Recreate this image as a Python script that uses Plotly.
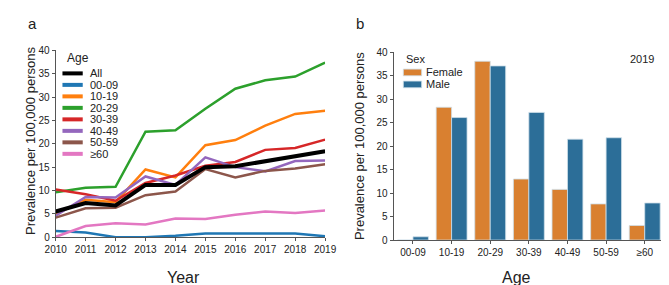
import plotly.graph_objects as go

W, H = 669, 285

# ---------------- data ----------------
years = [2010, 2011, 2012, 2013, 2014, 2015, 2016, 2017, 2018, 2019]
age_groups = ["All", "00-09", "10-19", "20-29", "30-39", "40-49", "50-59", "≥60"]
age_colors = ["#000000", "#1f77b4", "#ff7f0e", "#2ca02c", "#d62728", "#9467bd", "#8c564b", "#e377c2"]

v_all   = [5.5, 7.3, 6.8, 11.2, 11.2, 15.0, 15.2, 16.3, 17.4, 18.4]
v_0009  = [1.3, 1.0, 0.0, 0.0, 0.3, 0.8, 0.8, 0.8, 0.8, 0.2]
v_1019  = [5.0, 8.0, 7.5, 14.5, 12.8, 19.7, 20.8, 23.9, 26.4, 27.1]
v_2029  = [9.6, 10.6, 10.8, 22.6, 22.9, 27.5, 31.8, 33.6, 34.4, 37.4]
v_3039  = [10.2, 9.2, 7.8, 11.6, 13.2, 15.3, 16.1, 18.7, 19.1, 20.9]
v_4049  = [4.6, 8.6, 8.5, 13.0, 11.2, 17.1, 15.0, 14.1, 16.3, 16.4]
v_5059  = [4.2, 6.2, 6.3, 9.0, 9.8, 14.6, 12.8, 14.2, 14.7, 15.6]
v_60    = [0.1, 2.4, 3.0, 2.7, 4.0, 3.9, 4.8, 5.5, 5.2, 5.7]
series_a = [v_all, v_0009, v_1019, v_2029, v_3039, v_4049, v_5059, v_60]

bar_ages = ["00-09", "10-19", "20-29", "30-39", "40-49", "50-59", "≥60"]
female = [0.0, 28.3, 38.1, 13.0, 10.8, 7.7, 3.1]
male   = [0.7, 26.1, 37.1, 27.2, 21.5, 21.8, 7.9]
sex_names = ["Female", "Male"]
sex_colors = ["#D98030", "#2C6E98"]

# ---------------- helpers ----------------
def px(x):
    return x / W

def py(y):
    return 1 - y / H

FONT = "Liberation Sans, Arial, sans-serif"
TXT = "#222222"

fig = go.Figure()

# panel a lines (draw "All" last so it sits on top like reference)
order = [1, 2, 3, 4, 5, 6, 7, 0]
for i in order:
    fig.add_trace(go.Scatter(
        x=years, y=series_a[i], mode="lines", name=age_groups[i],
        line=dict(color=age_colors[i], width=4 if i == 0 else 2.5),
        xaxis="x", yaxis="y", showlegend=False))

# panel b bars
for name, vals, col in zip(sex_names, [female, male], sex_colors):
    fig.add_trace(go.Bar(
        x=bar_ages, y=vals, name=name, marker=dict(color=col, line=dict(color="#cfe0ea", width=0.8)),
        xaxis="x2", yaxis="y2", showlegend=False))

axis_common = dict(showgrid=False, zeroline=False, showline=True, linecolor="#555555", linewidth=1,
                   ticks="outside", ticklen=3, tickcolor="#555555",
                   tickfont=dict(family=FONT, size=10, color=TXT))

fig.update_layout(
    width=W, height=H, margin=dict(l=0, r=0, t=0, b=0),
    paper_bgcolor="white", plot_bgcolor="white",
    barmode="group", bargap=0.2, bargroupgap=0,
    xaxis=dict(domain=[px(38), px(317)], range=[2010, 2019], tickvals=years,
               anchor="y", **axis_common),
    yaxis=dict(domain=[py(233), py(38)], range=[0, 40], tickvals=[0, 5, 10, 15, 20, 25, 30, 35, 40],
               anchor="x", **axis_common),
    xaxis2=dict(domain=[px(388), px(668)], range=[-0.5, 6.5], type="category",
                anchor="y2", **axis_common),
    yaxis2=dict(domain=[py(236), py(40)], range=[0, 40], tickvals=[0, 5, 10, 15, 20, 25, 30, 35, 40],
                anchor="x2", **axis_common),
    showlegend=False,
)

ann = []
shapes = []

def text(x, y, s, size, xanchor="left", angle=0):
    ann.append(dict(x=px(x), y=py(y), xref="paper", yref="paper", text=s, showarrow=False,
                    xanchor=xanchor, yanchor="middle", textangle=angle,
                    font=dict(family=FONT, size=size, color=TXT)))

# panel labels
text(7, 10, "a", 15)
text(347, 10, "b", 15)
# axis titles
text(170, 275, "Year", 16, "center")
text(515, 275, "Age", 16, "center")
text(12, 133, "Prevalence per 100,000 persons", 13, "center", -90)
text(352, 138, "Prevalence per 100,000 persons", 13, "center", -90)

# manual legend a
text(48, 46, "Age", 12)
for k, (nm, col) in enumerate(zip(age_groups, age_colors)):
    yy = 62 + k * 12
    shapes.append(dict(type="line", xref="paper", yref="paper", x0=px(45), x1=px(66), y0=py(yy), y1=py(yy),
                       line=dict(color=col, width=4)))
    text(71, yy, nm, 11)

# manual legend b
text(399, 47, "Sex", 11)
for k, (nm, col) in enumerate(zip(sex_names, sex_colors)):
    yy = 61 + k * 12.5
    shapes.append(dict(type="rect", xref="paper", yref="paper", x0=px(398), x1=px(417), y0=py(yy - 3.5), y1=py(yy + 3.5),
                       fillcolor=col, line=dict(color="#cfe0ea", width=0.8)))
    text(419, yy, nm, 11)

text(660, 47, "2019", 11, "right")

fig.update_layout(annotations=ann, shapes=shapes)
fig.write_html("out.html")
